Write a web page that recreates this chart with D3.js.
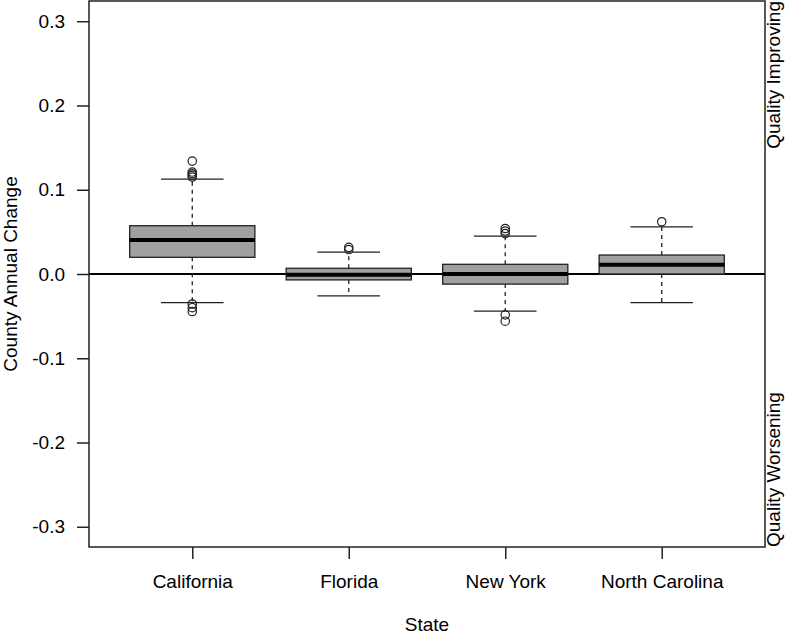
<!DOCTYPE html>
<html>
<head>
<meta charset="utf-8">
<script src="https://cdn.jsdelivr.net/npm/d3@7"></script>
<style>
  body { margin: 0; background: #fff; }
  svg { display: block; font-family: "Liberation Sans", Arial, sans-serif; }
</style>
</head>
<body>
<svg id="chart"></svg>
<script>
const width = 787;
const height = 636;

// per-state boxplot stats
const states = ['California', 'Florida', 'New York', 'North Carolina'];
const whiskerLow  = [-0.034, -0.026, -0.044, -0.034];
const q1          = [0.0198, -0.007, -0.012, 0.0];
const median      = [0.0403, -0.001, 0.0, 0.011];
const q3          = [0.0573, 0.0068, 0.0115, 0.0225];
const whiskerHigh = [0.1127, 0.026, 0.045, 0.056];
const outliers = [
  [0.134, 0.121, 0.119, 0.117, 0.115, -0.0356, -0.040, -0.0445],
  [0.0316, 0.029],
  [0.054, 0.051, 0.048, -0.0485, -0.056],
  [0.062]
];
const yTicks = [-0.3, -0.2, -0.1, 0.0, 0.1, 0.2, 0.3];

const plotLeft = 89, plotRight = 765, plotTop = 1, plotBottom = 547;

const svg = d3.select('#chart').attr('width', width).attr('height', height);

const x = d3.scaleLinear().domain([0.34, 4.66]).range([plotLeft, plotRight]);
const y = d3.scaleLinear().domain([-0.324, 0.324]).range([plotBottom, plotTop]);

const boxHalf = x(1.4) - x(1);
const capHalf = x(1.2) - x(1);

const data = states.map((s, i) => ({
  state: s, pos: i + 1,
  lo: whiskerLow[i], q1: q1[i], med: median[i], q3: q3[i], hi: whiskerHigh[i],
  out: outliers[i]
}));

// zero reference line
svg.append('line')
  .attr('x1', plotLeft).attr('x2', plotRight)
  .attr('y1', y(0)).attr('y2', y(0))
  .attr('stroke', '#000').attr('stroke-width', 2);

const g = svg.selectAll('.box').data(data).enter().append('g').attr('class', 'box');

// whiskers
g.append('line')
  .attr('x1', d => x(d.pos)).attr('x2', d => x(d.pos))
  .attr('y1', d => y(d.q3)).attr('y2', d => y(d.hi))
  .attr('stroke', '#222').attr('stroke-width', 1.3).attr('stroke-dasharray', '4,4');
g.append('line')
  .attr('x1', d => x(d.pos)).attr('x2', d => x(d.pos))
  .attr('y1', d => y(d.q1)).attr('y2', d => y(d.lo))
  .attr('stroke', '#222').attr('stroke-width', 1.3).attr('stroke-dasharray', '4,4');

// caps
g.append('line')
  .attr('x1', d => x(d.pos) - capHalf).attr('x2', d => x(d.pos) + capHalf)
  .attr('y1', d => y(d.hi)).attr('y2', d => y(d.hi))
  .attr('stroke', '#222').attr('stroke-width', 1.3);
g.append('line')
  .attr('x1', d => x(d.pos) - capHalf).attr('x2', d => x(d.pos) + capHalf)
  .attr('y1', d => y(d.lo)).attr('y2', d => y(d.lo))
  .attr('stroke', '#222').attr('stroke-width', 1.3);

// boxes
g.append('rect')
  .attr('x', d => x(d.pos) - boxHalf)
  .attr('width', boxHalf * 2)
  .attr('y', d => y(d.q3))
  .attr('height', d => y(d.q1) - y(d.q3))
  .attr('fill', '#a0a0a0').attr('stroke', '#222').attr('stroke-width', 1.3);

// medians
g.append('line')
  .attr('x1', d => x(d.pos) - boxHalf).attr('x2', d => x(d.pos) + boxHalf)
  .attr('y1', d => y(d.med)).attr('y2', d => y(d.med))
  .attr('stroke', '#000').attr('stroke-width', 4);

// outliers
g.selectAll('circle').data(d => d.out.map(v => ({pos: d.pos, v}))).enter()
  .append('circle')
  .attr('cx', d => x(d.pos)).attr('cy', d => y(d.v)).attr('r', 4.2)
  .attr('fill', 'none').attr('stroke', '#222').attr('stroke-width', 1.2);

// frame
svg.append('rect')
  .attr('x', plotLeft).attr('y', plotTop)
  .attr('width', plotRight - plotLeft).attr('height', plotBottom - plotTop)
  .attr('fill', 'none').attr('stroke', '#222').attr('stroke-width', 1.5);

// y axis
const yAxis = svg.append('g').attr('transform', `translate(${plotLeft},0)`)
  .call(d3.axisLeft(y).tickValues(yTicks).tickSize(12).tickPadding(12)
    .tickFormat(d => d3.format('.1f')(d).replace('\u2212', '-')));
yAxis.select('.domain').remove();
yAxis.selectAll('line').attr('stroke', '#222').attr('stroke-width', 1.5);
yAxis.selectAll('text').attr('font-size', 19).attr('fill', '#000')
  .attr('font-family', '"Liberation Sans", Arial, sans-serif');

// x axis
const xAxis = svg.append('g').attr('transform', `translate(0,${plotBottom})`)
  .call(d3.axisBottom(x).tickValues(data.map(d => d.pos)).tickSize(12).tickPadding(16)
    .tickFormat((d, i) => states[i]));
xAxis.select('.domain').remove();
xAxis.selectAll('line').attr('stroke', '#222').attr('stroke-width', 1.5);
xAxis.selectAll('text').attr('font-size', 19).attr('fill', '#000')
  .attr('font-family', '"Liberation Sans", Arial, sans-serif');

// titles
svg.append('text')
  .attr('x', (plotLeft + plotRight) / 2).attr('y', 631)
  .attr('text-anchor', 'middle').attr('font-size', 19)
  .text('State');

svg.append('text')
  .attr('transform', `translate(17,${(plotTop + plotBottom) / 2}) rotate(-90)`)
  .attr('text-anchor', 'middle').attr('font-size', 19)
  .text('County Annual Change');

svg.append('text')
  .attr('transform', `translate(780,${plotTop}) rotate(-90)`)
  .attr('text-anchor', 'end').attr('font-size', 19)
  .text('Quality Improving');

svg.append('text')
  .attr('transform', `translate(780,${plotBottom}) rotate(-90)`)
  .attr('text-anchor', 'start').attr('font-size', 19)
  .text('Quality Worsening');
</script>
</body>
</html>
